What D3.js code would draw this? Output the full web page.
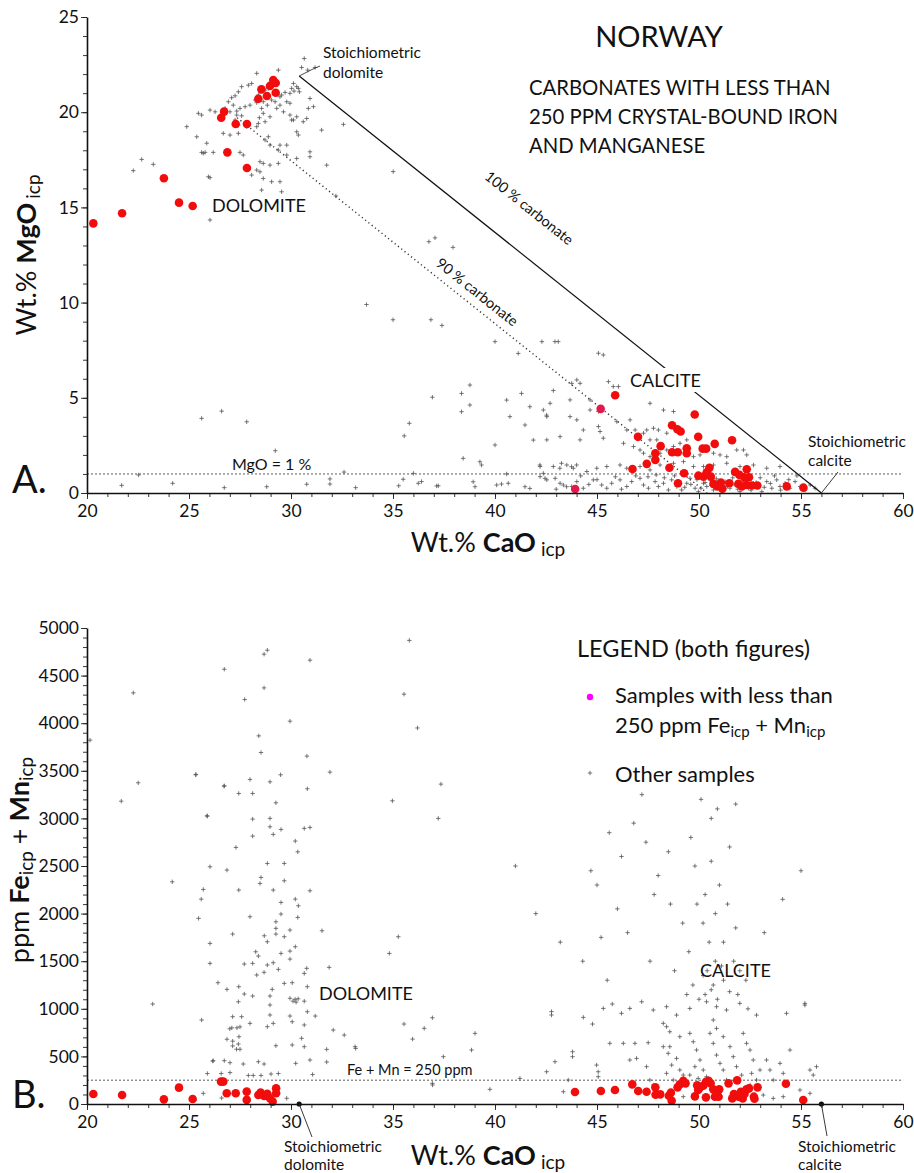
<!DOCTYPE html>
<html><head><meta charset="utf-8">
<script src="https://cdn.jsdelivr.net/npm/d3@7"></script>
<style>
html,body{margin:0;padding:0;background:#fff;}
svg{display:block;font-family:Lato,"Open Sans",sans-serif;}
</style></head>
<body>
<svg id="c" width="914" height="1173"></svg>
<script>
// ---------- DATA ----------
const caoTicks = [20,25,30,35,40,45,50,55,60];
const mgoTicks = [0,5,10,15,20,25];
const femnTicks = [0,500,1000,1500,2000,2500,3000,3500,4000,4500,5000];
const stoichCaO = [30.4, 56.0];      // dolomite, calcite
const stoichMgO = [21.9, 0];
const carb90Frac = 0.9;
const mgoLimit = 1;
const femnLimit = 250;

// Panel A: samples with < 250 ppm Fe+Mn  [CaO, MgO]
const redA = [[20.31,14.16],[21.72,14.69],[23.77,16.53],[24.51,15.25],[25.18,15.07],[26.72,20.03],[26.58,19.71],[27.29,19.38],[27.84,19.38],[26.88,17.89],[27.84,17.07],[28.40,20.71],[28.55,21.2],[28.82,20.85],[28.97,21.38],[29.13,21.69],[29.25,21.53],[29.25,21.02],
[45.89,5.13],[49.79,4.12],[48.68,3.56],[48.94,3.35],[49.1,3.23],[47.01,2.95],[49.96,2.95],[50.77,2.58],[51.62,2.77],[48.12,2.46],[49.4,2.35],[49.4,2.09],[50.18,2.33],[50.35,2.33],[48.68,2.14],[48.96,2.14],[47.86,2.09],[47.86,1.74],[46.74,1.26],[47.44,1.53],[48.55,1.33],[49.27,1.04],[50.51,1.32],[48.97,0.51],[49.97,0.91],[50.22,0.86],[50.38,1.09],[50.58,0.86],[50.71,0.48],[50.9,0.34],[51.07,0.55],[51.15,0.23],[51.49,0.51],[51.77,1.11],[51.98,0.95],[52.21,0.83],[52.45,0.83],[52.34,1.25],[51.93,0.48],[52.1,0.34],[52.34,0.42],[52.59,0.39],[52.86,0.39],[54.3,0.35],[55.12,0.28]];
const redAalt = [[43.93,0.21],[45.18,4.42]];   // drawn in crimson tone in the original

// Panel A: other samples [CaO, MgO]
const otherA = [[30.65,22.82],[30.52,22.35],[30.82,22.21],[31.18,22.35],[29.38,22.21],[28.32,22.04],[28.07,21.51],[27.91,21.42],[27.58,21.34],[30.12,21.51],[30.28,21.34],[30.36,21.25],[30.03,21.25],[30.15,21.11],[30.41,21.07],[29.95,20.99],[29.71,21.04],[29.54,20.9],[29.46,20.81],[28.89,21.25],[28.73,21.16],[28.48,21.07],[28.4,20.9],[28.48,20.69],[28.64,20.55],[28.84,20.37],[27.42,21.07],[27.26,20.86],[27.09,20.76],[26.93,20.55],[27.17,20.37],[28.24,20.64],[28.32,20.5],[27.99,20.37],[27.75,20.29],[27.5,20.2],[27.34,20.06],[27.01,20.02],[29.05,20.64],[29.22,20.55],[29.46,20.37],[29.3,20.2],[29.79,20.55],[29.63,20.02],[28.56,20.2],[28.64,19.94],[28.45,19.71],[28.73,19.5],[28.97,19.76],[26.77,20.2],[26.28,20.02],[26.03,20.11],[25.62,19.85],[25.46,19.94],[27.34,19.85],[27.58,19.81],[27.26,19.59],[27.42,19.32],[27.83,19.24],[28.4,19.41],[28.32,19.24],[29.95,19.85],[30.12,19.59],[30.28,19.76],[30.6,19.5],[30.77,19.67],[30.85,20.2],[31.1,20.29],[30.93,20.72],[31.5,19.06],[32.57,19.36],[26.68,18.89],[27.01,18.8],[27.42,18.89],[24.89,19.24],[25.38,18.71],[28.89,18.71],[28.73,18.54],[28.97,18.27],[29.46,18.27],[29.79,18.27],[29.38,18.01],[25.62,17.89],[25.79,17.89],[26.19,17.89],[27.5,17.89],[27.66,17.75],[28.48,17.4],[28.64,17.31],[28.97,17.22],[29.38,17.31],[29.79,17.75],[30.28,17.57],[30.93,17.92],[30.93,17.66],[31.75,17.22],[30.36,18.8],[30.28,18.97],[28.32,16.96],[28.48,16.87],[28.64,16.52],[29.05,16.35],[29.46,16.35],[29.54,15.82],[28.56,15.91],[28.07,16.7],[25.95,16.61],
[22.68,17.52],[22.27,16.93],[23.25,17.26],[26.03,16.56],[26.03,14.34],[25.87,18.37],[25.7,17.84],[35.01,16.88],[29.95,20.47],[30.03,19.59],
[32.2,15.6],[36.76,13.2],[37.06,13.4],[37.94,12.9],[33.7,9.9],[35.0,9.1],[36.86,9.1],[37.4,8.8],
[40.0,7.95],[41.14,7.33],[42.94,7.95],[43.1,7.95],[38.77,5.67],[38.36,5.23],[38.36,4.27],[38.77,4.62],[40.57,4.88],[40.73,4.01],[41.3,5.23],[41.71,4.53],[42.53,4.09],[41.47,3.57],[40.0,2.52],[41.88,2.78],[38.44,1.82],[39.26,1.64],[39.34,1.47],[40.57,1.0],[38.93,0.59],[39.02,0.33],[40.08,0.42],[40.32,0.47],[40.65,0.51],[42.2,1.47],[42.37,1.03],[42.45,0.77],[41.47,0.33],[41.71,0.24],[37.14,0.37],[43.26,1.56],[43.18,1.3],[43.75,1.38],[44.0,1.47],[43.35,0.42],[43.51,0.33],
[35.55,3.0],[35.8,3.66],[36.93,5.03],[25.62,3.92],[26.6,4.3],[27.83,3.74],[29.23,2.22],[21.7,0.4],[22.53,0.95],[24.2,0.51],[26.73,0.28],[28.81,0.33],[30.77,0.46],[31.91,0.74],[31.91,0.47],[32.6,1.1],[33.17,0.28],[35.28,0.38],[35.5,0.72],[36.0,1.03],[36.24,0.51],[36.4,0.6],[37.22,0.38],
[42.3,7.95],[45.07,7.34],[45.31,7.25],[43.76,5.76],[44.01,5.94],[44.17,5.76],[42.86,5.38],[43.68,4.89],[44.66,4.89],[44.66,4.36],[45.07,4.28],[45.56,5.85],[46.05,5.59],[45.8,5.59],[47.6,4.71],[48.26,4.36],[48.75,4.28],[42.37,4.36],[42.7,4.71],[42.54,4.01],[43.68,4.01],[44.01,3.84],[46.62,3.84],[45.97,3.75],[45.07,3.49],[45.15,3.23],
[46.46,3.31],[46.87,3.31],[47.28,3.14],[47.44,3.31],[47.77,3.4],[48.01,3.31],[48.42,3.14],[47.03,2.96],[47.6,2.79],[47.93,2.79],[42.54,2.79],[43.19,2.96],[44.17,2.79],[44.33,3.31],[45.31,2.88],
[46.3,2.61],[46.79,2.44],[47.11,2.26],[47.28,2.09],[47.6,1.91],[47.77,2.0],[48.09,2.09],[48.42,2.26],[48.75,2.44],[49.07,2.61],[49.4,2.79],[49.73,1.91],[50.05,2.0],[50.71,2.09],[51.03,2.0],[51.36,1.91],[51.85,2.26],[52.18,2.26],[52.34,2.0],
[42.21,1.39],[42.86,1.39],[43.52,1.47],[43.84,1.3],[44.5,1.13],[44.99,1.3],[45.48,1.39],[46.13,1.47],[46.46,1.3],[46.79,1.13],[47.11,1.39],[47.6,1.21],[48.09,1.47],[48.75,1.56],[49.24,1.65],[49.73,1.39],[50.22,1.39],[50.71,1.47],[51.36,1.56],[52.01,1.39],[52.67,1.47],[53.32,1.3],[53.97,1.39],
[42.21,0.86],[42.54,0.69],[42.95,0.77],[43.19,0.51],[43.76,0.34],[44.01,0.6],[44.33,0.25],[44.82,0.69],[45.23,0.42],[45.48,0.25],[45.72,0.51],[46.13,0.69],[46.46,0.34],[46.7,0.6],[47.11,0.77],[47.28,0.42],[47.52,0.25],[47.85,0.6],[48.01,0.34],[48.26,0.51],[48.5,0.16],[48.66,0.69],[48.91,0.34],[49.15,0.16],[49.4,0.51],[49.56,0.77],[49.81,0.25],[49.97,0.07],[50.22,0.51],[50.38,0.34],[50.54,0.69],[50.71,0.16],[50.95,0.42],[51.12,0.07],[51.28,0.6],[51.52,0.25],[51.77,0.42],[52.01,0.07],[52.18,0.6],[52.42,0.25],[52.67,0.51],[52.91,0.34],[53.08,0.07],[53.32,0.6],[53.57,0.25],[53.81,0.69],[53.97,0.34],[54.22,0.51],[54.46,0.25],[54.71,0.6],[54.96,0.34],[55.2,0.16],[55.45,0.42],[55.69,0.25],
[48.3,0.8],[48.8,0.9],[49.0,0.6],[49.3,0.3],[49.6,0.45],[49.9,0.7],[50.1,0.25],[50.3,0.55],[50.6,0.4],[50.85,0.75],[51.0,0.2],[51.2,0.5],[51.4,0.35],[51.65,0.8],[51.9,0.2],[52.1,0.45],[52.3,0.7],[52.55,0.15],[52.8,0.55],[53.0,0.8],[53.2,0.3],[53.5,0.5],[53.7,0.9],[54.0,0.15],[54.4,0.7],[54.8,0.9],[47.5,0.85],[47.9,0.95],[46.9,0.9],[46.2,0.2],[45.9,0.85],[45.0,0.7],[44.6,0.45],[43.0,0.2],[44.2,0.9]];

// Panel B: samples with < 250 ppm Fe+Mn  [CaO, ppm Fe+Mn]
const redB = [[20.31,105],[21.72,95],[23.77,49],[24.51,172],[25.18,52],[26.57,235],[26.68,235],[26.85,113],[27.29,113],[27.83,130],[27.83,43],[28.4,95],[28.51,120],[28.68,85],[28.84,106],[28.97,60],[29.1,25],[29.27,165],[29.27,113],
[43.92,126],[45.19,136],[45.88,147],[46.73,206],[47.02,136],[47.43,129],[47.86,175],[47.87,98],[48.1,101],[48.52,87],[48.62,119],[48.66,35],[48.95,175],[49.06,206],[49.23,245],[49.34,217],[49.8,80],[49.91,196],[50.05,175],[49.96,147],[50.21,192],[50.34,234],[50.47,245],[50.57,217],[50.34,70],[50.7,154],[50.78,77],[50.99,154],[50.96,77],[51.45,217],[51.63,59],[51.71,105],[51.87,248],[51.94,77],[52.05,129],[52.14,59],[52.23,105],[52.33,154],[52.45,164],[52.69,77],[52.72,56],[52.87,175],[54.26,213],[55.11,42]];

// Panel B: other samples [CaO, ppm Fe+Mn]
const otherB = [[28.84,4767],[28.68,4725],[26.73,4567],[30.93,4662],[35.8,4870],[35.54,4305],[36.2,3950],[27.73,4249],[28.68,4371],[29.95,4021],[28.42,3867],[28.53,3692],[30.78,3654],[31.91,3486],[25.33,3458],[29.49,3458],[27.99,3409],[26.73,3342],[28.97,3384],[27.44,3262],[28.12,3262],[30.8,3311],[29.26,3164],[37.35,3360],[34.97,3185],[37.22,3000],[25.88,3027],[28.12,2993],[28.97,3000],[28.97,2912],[28.12,2814],[29.13,2832],[29.51,2884],[30.65,2895],[30.93,2905],[30.21,2762],[30.33,2649],[27.3,2695],[26.03,2492],[26.86,2457],[28.84,2527],[29.67,2527],[28.53,2380],[28.48,2317],[29.13,2247],[29.67,2345],[30.21,2152],[30.36,2082],[30.93,2240],[25.7,2254],[25.6,2152],[27.44,2247],[29.51,2117],[27.99,1967],[25.47,1950],[30.33,1960],[29.51,1995],[29.26,1914],[29.26,1845],[29.95,1827],[31.52,1820],[27.14,1785],[28.69,1767],[29.26,1785],[29.67,1757],[28.84,1704],[26.03,1687],[29.51,1582],[29.95,1606],[30.21,1652],[35.26,1757],[34.82,1582],[28.27,1599],[28.4,1554],[29.95,1522],[27.71,1470],[28.12,1477],[28.84,1460],[29.13,1484],[29.38,1414],[26.03,1477],[28.32,1355],[28.68,1383],[30.77,1425],[30.65,1372],[31.87,1435],[26.42,1274],[26.86,1204],[27.44,1232],[29.08,1204],[29.67,1267],[30.06,1274],[30.8,1232],[27.71,1155],[28.12,1134],[28.97,1134],[27.42,1074],[29.95,1110],[30.2,1100],[30.35,1105],[30.1,1080],[30.25,1070],[30.65,1080],[28.97,1040],[25.62,882],[27.14,917],[27.58,917],[27.99,847],[28.97,935],[28.84,812],[29.13,847],[29.95,924],[30.06,864],[30.65,830],[30.8,969],[31.19,924],[27.1,800],[27.0,790],[27.35,800],[27.5,810],[32.07,777],[32.61,724],[35.54,840],[36.53,795],[36.93,906],[35.96,682],[27.45,707],[26.86,680],[27.14,660],[27.42,630],[27.33,575],[27.5,575],[27.14,610],[29.26,612],[30.65,602],[30.52,690],[30.06,620],[31.75,574],[33.17,584],[37.47,497],[26.19,455],[26.73,455],[27.01,434],[27.66,420],[28.4,444],[28.68,420],[30.23,427],[30.93,462],[31.75,441],[25.9,320],[26.58,320],[27.01,330],[27.91,300],[28.15,300],[28.53,300],[29.02,315],[29.38,320],[31.06,310],[25.7,112],[29.79,60],[36.93,217],
[22.27,4319],[21.68,3181],[22.51,3374],[20.15,3822],[24.18,2334],[25.34,3462],[26.72,3339],[25.9,3024],[23.22,1050],[26.16,451],[26.6,63],[33.14,602],[36.94,200],
[42.77,970],[42.77,935],[44.33,910],[44.78,840],[45.31,1004],[45.75,1050],[46.2,952],[46.61,1004],[47.19,1074],[47.76,987],[48.41,1022],[48.9,934],[49.55,1004],[50.37,1074],[50.86,1022],[51.35,987],[52.0,1057],[52.82,934],[54.29,952],[55.19,1057],[55.19,1039],[39.02,742],[38.85,567],[39.75,154],[41.22,269],[42.53,339],[42.94,444],[43.8,549],[43.8,497],[43.59,252],[43.35,129],[44.98,409],[45.06,339],[45.06,287],[45.63,637],[46.29,637],[46.86,637],[47.51,644],[46.61,462],[46.94,479],[47.43,392],[47.59,252],[47.76,199],
[48.25,847],[48.41,812],[48.57,759],[49.06,707],[48.25,602],[48.57,602],[48.49,532],[48.9,479],[48.66,409],[49.06,357],[49.23,304],[48.41,322],[48.74,252],[49.23,77],
[49.55,742],[49.72,654],[49.88,567],[50.05,462],[49.8,392],[50.21,357],[49.55,304],[49.96,269],[50.37,287],[50.54,742],[50.7,637],[50.86,514],[51.03,427],[51.19,357],[51.35,252],[50.7,882],[50.86,794],[51.19,707],[51.52,602],[51.68,497],[51.84,392],[52.09,304],[52.17,742],[52.33,637],[52.5,567],[52.66,462],[52.58,322],[52.82,252],[52.99,357],[53.31,462],[53.48,357],[53.64,252],[53.97,427],[54.13,322],[54.46,567],[54.95,147],[55.44,357],[55.6,304],[55.76,392],[55.44,112],[54.13,77],[53.64,59],[53.15,94],[52.5,199],
[45.0,2300],[46.2,2600],[47.4,2750],[48.0,2400],[48.6,2100],[49.2,1900],[49.8,2500],[50.3,2200],[50.8,2000],[51.2,1700],[51.7,1500],[52.3,1300],[50.1,3200],[50.6,3000],[51.5,2700],[49.5,1600],[48.8,1400],[50.2,1350],[50.7,1250],[51.9,1150],[47.6,1500],[46.5,1800],[44.3,1500],[45.5,1300],[53.2,1800],[54.1,2150],[55.0,2450],[43.2,1700],[42.0,2000],[41.0,2500],
[50.0,1100],[50.3,1150],[50.6,1200],[50.9,1100],[51.2,1300],[51.5,1180],[50.4,1400],[50.8,1500],[51.1,1450],[49.7,1250],[49.4,1150],[52.0,1400],[52.4,1000],[51.8,1850],[50.5,1700],[50.2,1900],[49.9,2100],[51.0,2300],[51.4,2100],[50.6,2550],[49.6,2800],[50.9,3100],[51.8,3150],[47.2,3250],[46.8,2950],[45.6,2850],[48.5,2650],[47.8,2200],[46.0,2050],[45.2,1750],[44.7,2450]];

// ---------- DRAW ----------
const svg = d3.select("#c");
const FONT = "Lato, 'Open Sans', sans-serif";
const x = d3.scaleLinear().domain([20,60]).range([87,903]);
const yA = d3.scaleLinear().domain([0,25]).range([493,17]);
const yB = d3.scaleLinear().domain([0,5000]).range([1104,628]);

function axes(y, yTicks, yMinorStep, yMax){
  const g = svg.append("g");
  const y0 = y(0);
  g.append("g").attr("transform",`translate(0,${y0})`)
    .call(d3.axisBottom(x).tickValues(d3.range(20,61,1)).tickSize(4).tickFormat("").tickSizeOuter(0))
    .call(s=>s.select(".domain").remove());
  g.append("g").attr("transform",`translate(${x(20)},0)`)
    .call(d3.axisLeft(y).tickValues(d3.range(0,yMax+yMinorStep/2,yMinorStep)).tickSize(4).tickFormat("").tickSizeOuter(0))
    .call(s=>s.select(".domain").remove());
  const gx = g.append("g").attr("transform",`translate(0,${y0})`)
    .call(d3.axisBottom(x).tickValues(caoTicks).tickFormat(d3.format("d")).tickSize(6).tickSizeOuter(0).tickPadding(6));
  gx.selectAll("text").attr("font-size",17.5).attr("font-family",FONT).attr("fill","#111");
  const gy = g.append("g").attr("transform",`translate(${x(20)},0)`)
    .call(d3.axisLeft(y).tickValues(yTicks).tickFormat(d3.format("d")).tickSize(6).tickSizeOuter(0).tickPadding(2));
  gy.selectAll("text").attr("font-size",17.5).attr("font-family",FONT).attr("fill","#111");
  g.selectAll(".domain").attr("stroke","#111").attr("stroke-width",1.6);
  g.selectAll(".tick line").attr("stroke","#222").attr("stroke-width",0.9);
}

function crosses(data, y){
  const g = svg.append("g").attr("stroke","#555").attr("stroke-width",0.8);
  g.selectAll("path").data(data).join("path")
    .attr("d", d=>{const px=x(d[0]), py=y(d[1]); return `M${px-2.2},${py}H${px+2.2}M${px},${py-2.2}V${py+2.2}`;});
}
function dots(data, y, color){
  svg.append("g").selectAll("circle").data(data).join("circle")
    .attr("cx",d=>x(d[0])).attr("cy",d=>y(d[1])).attr("r",4.3).attr("fill",color);
}
function txt(s, px, py, size, opts={}){
  return svg.append("text").attr("x",px).attr("y",py).attr("font-size",size)
    .attr("font-family",FONT).attr("fill","#111")
    .attr("text-anchor",opts.anchor||"start").text(s);
}

// ===== Panel A =====
svg.append("line").attr("x1",x(20)).attr("x2",x(60)).attr("y1",yA(mgoLimit)).attr("y2",yA(mgoLimit))
  .attr("stroke","#333").attr("stroke-width",0.8).attr("stroke-dasharray","2,2");
svg.append("line").attr("x1",x(stoichCaO[0]*carb90Frac)).attr("y1",yA(stoichMgO[0]*carb90Frac))
  .attr("x2",x(stoichCaO[1]*carb90Frac)).attr("y2",yA(0))
  .attr("stroke","#333").attr("stroke-width",1.4).attr("stroke-dasharray","1.2,3");
crosses(otherA, yA);
dots(redAalt, yA, "#e3194b");
dots(redA, yA, "#f20d0d");
svg.append("line").attr("x1",x(stoichCaO[0])).attr("y1",yA(stoichMgO[0]))
  .attr("x2",x(stoichCaO[1])).attr("y2",yA(stoichMgO[1]))
  .attr("stroke","#111").attr("stroke-width",1.2);
axes(yA, mgoTicks, 1, 25);

const ang = Math.atan2(yA(0)-yA(stoichMgO[0]), x(stoichCaO[1])-x(stoichCaO[0]))*180/Math.PI;
svg.append("text").attr("transform",`translate(526,212) rotate(${ang})`).attr("text-anchor","middle")
  .attr("font-size",14.5).attr("font-family",FONT).attr("fill","#111").text("100 % carbonate");
svg.append("text").attr("transform",`translate(474,296) rotate(${ang})`).attr("text-anchor","middle")
  .attr("font-size",14.5).attr("font-family",FONT).attr("fill","#111").text("90 % carbonate");

svg.append("rect").attr("x",626).attr("y",368).attr("width",78).attr("height",24).attr("fill","#fff");
txt("CALCITE", 630, 387, 18);
txt("DOLOMITE", 212, 212, 18);
txt("MgO = 1 %", 232, 470, 16);

svg.append("path").attr("d",`M${x(stoichCaO[0])},${yA(stoichMgO[0])}L313,69L320,66`).attr("fill","none").attr("stroke","#222").attr("stroke-width",0.8);
txt("Stoichiometric", 323, 58, 15.5);
txt("dolomite", 323, 78, 15.5);
svg.append("path").attr("d",`M${x(stoichCaO[1])},${yA(0)}L838,472`).attr("fill","none").attr("stroke","#222").attr("stroke-width",0.9);
txt("Stoichiometric", 808, 447, 15.5);
txt("calcite", 808, 466, 15.5);

txt("NORWAY", 659, 47, 29, {anchor:"middle"});
txt("CARBONATES WITH LESS THAN", 529, 95, 20.3);
txt("250 PPM CRYSTAL-BOUND IRON", 529, 124, 20.3);
txt("AND MANGANESE", 529, 153, 20.3);
txt("A.", 12, 493, 38);

function xTitle(py){
  const t = svg.append("text").attr("x",488).attr("y",py).attr("text-anchor","middle")
    .attr("font-family",FONT).attr("fill","#111");
  t.append("tspan").attr("font-size",27).text("Wt.% ");
  t.append("tspan").attr("font-size",27).attr("font-weight","bold").text("CaO");
  t.append("tspan").attr("font-size",19).attr("dx",5).attr("dy",4).text("icp");
}
xTitle(552);
{
  const t = svg.append("text").attr("transform","translate(36,255) rotate(-90)").attr("text-anchor","middle")
    .attr("font-family",FONT).attr("fill","#111");
  t.append("tspan").attr("font-size",27).text("Wt.% ");
  t.append("tspan").attr("font-size",27).attr("font-weight","bold").text("MgO");
  t.append("tspan").attr("font-size",19).attr("dx",4).attr("dy",4).text("icp");
}

// ===== Panel B =====
svg.append("line").attr("x1",x(20)).attr("x2",x(60)).attr("y1",yB(femnLimit)).attr("y2",yB(femnLimit))
  .attr("stroke","#333").attr("stroke-width",0.8).attr("stroke-dasharray","2,2");
crosses(otherB, yB);
dots(redB, yB, "#f20d0d");
axes(yB, femnTicks, 100, 5000);
svg.append("g").selectAll("circle").data(stoichCaO).join("circle")
  .attr("cx",d=>x(d)).attr("cy",yB(0)).attr("r",2.6).attr("fill","#111");
svg.append("line").attr("x1",x(stoichCaO[0])).attr("y1",yB(0)).attr("x2",312).attr("y2",1137).attr("stroke","#222").attr("stroke-width",0.9);
svg.append("line").attr("x1",x(stoichCaO[1])).attr("y1",yB(0)).attr("x2",827).attr("y2",1136).attr("stroke","#222").attr("stroke-width",0.9);
txt("Stoichiometric", 284, 1152, 15.5);
txt("dolomite", 284, 1170, 15.5);
txt("Stoichiometric", 798, 1152, 15.5);
txt("calcite", 798, 1170, 15.5);
txt("Fe + Mn = 250 ppm", 347, 1075, 14.5);
txt("DOLOMITE", 319, 1000, 18);
txt("CALCITE", 700, 977, 18);
txt("B.", 12, 1108, 38);
xTitle(1165);
{
  const t = svg.append("text").attr("transform","translate(29,860) rotate(-90)").attr("text-anchor","middle")
    .attr("font-family",FONT).attr("fill","#111");
  t.append("tspan").attr("font-size",27).text("ppm ");
  t.append("tspan").attr("font-size",27).attr("font-weight","bold").text("Fe");
  t.append("tspan").attr("font-size",19).attr("dy",4).text("icp");
  t.append("tspan").attr("font-size",27).attr("dy",-4).text(" + ");
  t.append("tspan").attr("font-size",27).attr("font-weight","bold").text("Mn");
  t.append("tspan").attr("font-size",19).attr("dy",4).text("icp");
}

// legend
txt("LEGEND (both figures)", 577, 657, 23.5);
svg.append("circle").attr("cx",590).attr("cy",697).attr("r",3.2).attr("fill","#ff00ff");
txt("Samples with less than", 615, 703, 22);
{
  const t = txt("", 615, 733, 22);
  t.append("tspan").text("250 ppm Fe");
  t.append("tspan").attr("font-size",15).attr("dy",4).text("icp");
  t.append("tspan").attr("dy",-4).text(" + Mn");
  t.append("tspan").attr("font-size",15).attr("dy",4).text("icp");
}
crosses([[x.invert(590), yB.invert(773)]], yB);
txt("Other samples", 615, 782, 22);
</script>
</body></html>
